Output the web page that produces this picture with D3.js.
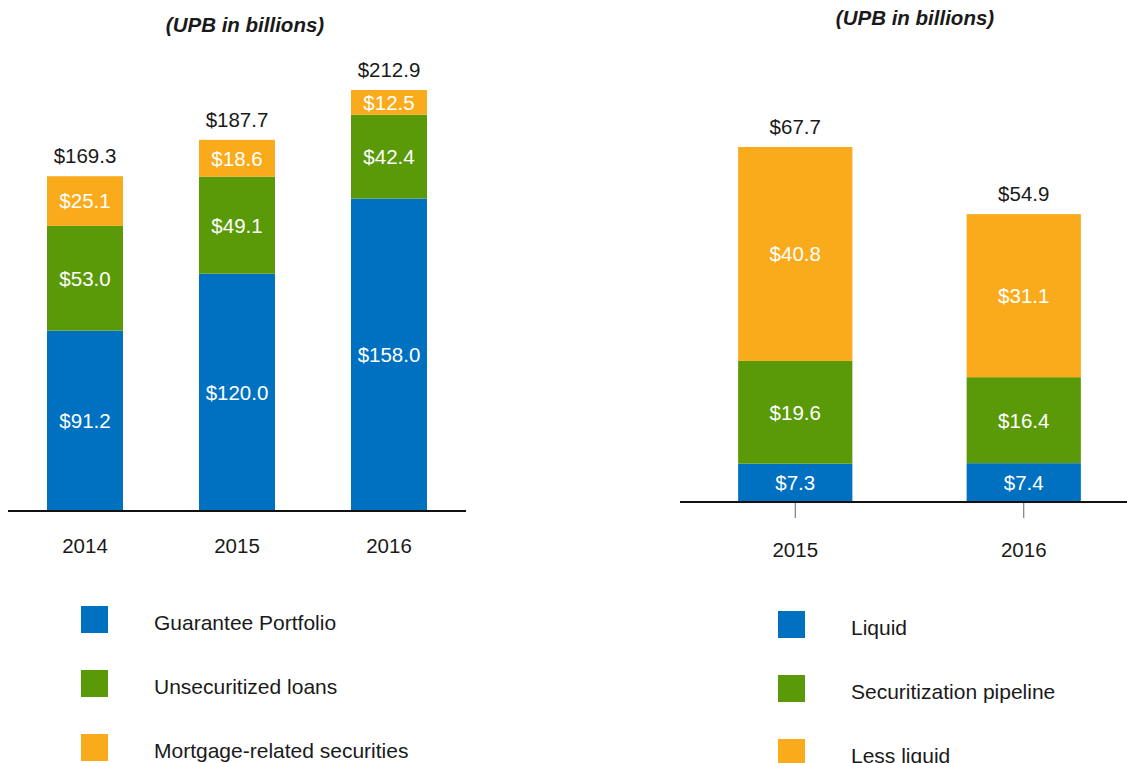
<!DOCTYPE html>
<html>
<head>
<meta charset="utf-8">
<script src="https://cdn.jsdelivr.net/npm/d3@7"></script>
<style>
  html, body { margin: 0; padding: 0; background: #fff; }
  svg { display: block; font-family: "Liberation Sans", Arial, sans-serif; }
</style>
</head>
<body>
<svg id="chart" width="1127" height="763"></svg>
<script>
// Left panel: portfolio composition by year
const leftYears = ["2014", "2015", "2016"];
const leftSeries = ["Guarantee Portfolio", "Unsecuritized loans", "Mortgage-related securities"];
const guaranteePortfolio = [91.2, 120.0, 158.0];
const unsecuritizedLoans = [53.0, 49.1, 42.4];
const mortgageSecurities = [25.1, 18.6, 12.5];
const leftTotals = [169.3, 187.7, 212.9];

// Right panel: liquidity profile by year
const rightYears = ["2015", "2016"];
const rightSeries = ["Liquid", "Securitization pipeline", "Less liquid"];
const liquid = [7.3, 7.4];
const securitizationPipeline = [19.6, 16.4];
const lessLiquid = [40.8, 31.1];
const rightTotals = [67.7, 54.9];

const panelTitle = "(UPB in billions)";
const colors = ["#0070c0", "#5a9a08", "#f9ab1c"];
const fmt = v => "$" + d3.format(".1f")(v);

const svg = d3.select("#chart");

function drawPanel(opts) {
  const { years, seriesNames, seriesValues, totals, xRange, yBase, yTop, yMax,
          paddingOuter, axisX, ticks, titleX, titleY, yearY, legendX, legendY } = opts;

  const g = svg.append("g");

  const x = d3.scaleBand().domain(years).range(xRange)
    .paddingInner(0.5).paddingOuter(paddingOuter);
  const y = d3.scaleLinear().domain([0, yMax]).range([yBase, yTop]);

  const rows = years.map((yr, i) => {
    const o = { year: yr };
    seriesNames.forEach((s, k) => { o[s] = seriesValues[k][i]; });
    return o;
  });
  const stacked = d3.stack().keys(seriesNames)(rows);

  // title
  g.append("text")
    .attr("x", titleX).attr("y", titleY)
    .attr("text-anchor", "middle")
    .attr("font-size", 20.5).attr("font-weight", "bold").attr("font-style", "italic")
    .attr("fill", "#1a1a1a")
    .text(panelTitle);

  // stacked bars
  stacked.forEach((layer, k) => {
    const lg = g.append("g");
    lg.selectAll("rect").data(layer).join("rect")
      .attr("x", d => x(d.data.year))
      .attr("width", x.bandwidth())
      .attr("y", d => y(d[1]))
      .attr("height", d => y(d[0]) - y(d[1]))
      .attr("fill", colors[k]);
    lg.selectAll("text").data(layer).join("text")
      .attr("x", d => x(d.data.year) + x.bandwidth() / 2)
      .attr("y", d => (y(d[0]) + y(d[1])) / 2)
      .attr("dy", "0.36em")
      .attr("text-anchor", "middle")
      .attr("font-size", 20.5)
      .attr("fill", "#fff")
      .text(d => fmt(d[1] - d[0]));
  });

  // totals above bars
  g.selectAll(".total").data(years).join("text")
    .attr("class", "total")
    .attr("x", d => x(d) + x.bandwidth() / 2)
    .attr("y", (d, i) => y(totals[i]) - 13)
    .attr("text-anchor", "middle")
    .attr("font-size", 20.5)
    .attr("fill", "#1a1a1a")
    .text((d, i) => fmt(totals[i]));

  // baseline
  g.append("line")
    .attr("x1", axisX[0]).attr("x2", axisX[1])
    .attr("y1", yBase).attr("y2", yBase)
    .attr("stroke", "#111").attr("stroke-width", 2);

  if (ticks) {
    g.selectAll(".tick").data(years).join("line")
      .attr("class", "tick")
      .attr("x1", d => x(d) + x.bandwidth() / 2)
      .attr("x2", d => x(d) + x.bandwidth() / 2)
      .attr("y1", yBase + 1).attr("y2", yBase + 16)
      .attr("stroke", "#666").attr("stroke-width", 1);
  }

  // year labels
  g.selectAll(".year").data(years).join("text")
    .attr("class", "year")
    .attr("x", d => x(d) + x.bandwidth() / 2)
    .attr("y", yearY)
    .attr("text-anchor", "middle")
    .attr("font-size", 20.5)
    .attr("fill", "#1a1a1a")
    .text(d => d);

  // legend
  const leg = g.selectAll(".leg").data(seriesNames).join("g")
    .attr("class", "leg")
    .attr("transform", (d, i) => `translate(${legendX},${legendY + i * 64})`);
  leg.append("rect")
    .attr("x", 0).attr("y", 0).attr("width", 27).attr("height", 27)
    .attr("fill", (d, i) => colors[i]);
  leg.append("text")
    .attr("x", 73).attr("y", 24)
    .attr("font-size", 21)
    .attr("fill", "#1a1a1a")
    .text(d => d);
}

drawPanel({
  years: leftYears,
  seriesNames: leftSeries,
  seriesValues: [guaranteePortfolio, unsecuritizedLoans, mortgageSecurities],
  totals: leftTotals,
  xRange: [9, 465], paddingOuter: 0.25,
  yBase: 511, yTop: 90, yMax: 212.9,
  axisX: [8, 466], ticks: false,
  titleX: 245, titleY: 32,
  yearY: 553,
  legendX: 81, legendY: 606
});

drawPanel({
  years: rightYears,
  seriesNames: rightSeries,
  seriesValues: [liquid, securitizationPipeline, lessLiquid],
  totals: rightTotals,
  xRange: [681, 1138], paddingOuter: 0.25,
  yBase: 502, yTop: 147, yMax: 67.7,
  axisX: [680, 1127], ticks: true,
  titleX: 915, titleY: 25,
  yearY: 557,
  legendX: 778, legendY: 611
});
</script>
</body>
</html>
